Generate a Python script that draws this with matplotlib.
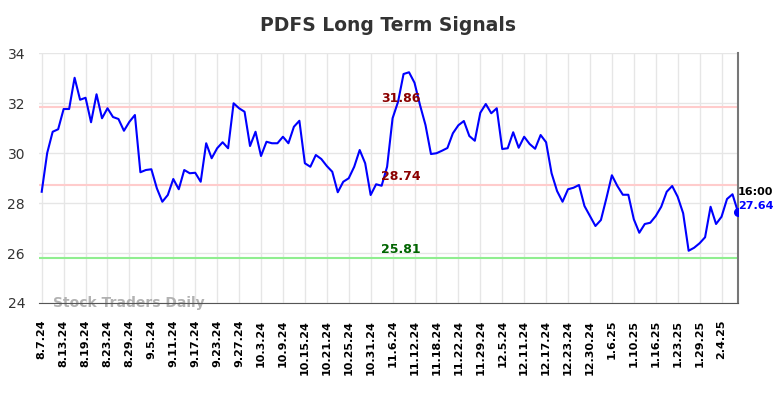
import matplotlib
matplotlib.use("Agg")
import matplotlib.pyplot as plt
import numpy as np

# closing prices, one per trading day (8.7.24 .. 2.7.25)
prices = [
    28.45, 30.00, 30.85, 30.95, 31.76, 31.76, 33.01, 32.13, 32.21, 31.23,
    32.35, 31.39, 31.79, 31.44, 31.36, 30.89, 31.25, 31.52, 29.23, 29.32,
    29.35, 28.59, 28.05, 28.32, 28.96, 28.55, 29.32, 29.19, 29.21, 28.85,
    30.39, 29.79, 30.19, 30.43, 30.19, 31.99, 31.79, 31.65, 30.28, 30.85,
    29.88, 30.45, 30.39, 30.39, 30.65, 30.39, 31.05, 31.29, 29.59, 29.45,
    29.92, 29.76, 29.48, 29.25, 28.43, 28.85, 28.99, 29.45, 30.12, 29.59,
    28.32, 28.75, 28.69, 29.45, 31.39, 32.05, 33.16, 33.23, 32.81, 31.92,
    31.12, 29.96, 29.99, 30.09, 30.20, 30.79, 31.11, 31.28, 30.68, 30.49,
    31.61, 31.96, 31.59, 31.79, 30.16, 30.19, 30.83, 30.21, 30.65, 30.36,
    30.17, 30.72, 30.43, 29.19, 28.48, 28.05, 28.55, 28.61, 28.72, 27.88,
    27.48, 27.08, 27.32, 28.19, 29.11, 28.68, 28.33, 28.33, 27.35, 26.81,
    27.16, 27.21, 27.48, 27.85, 28.45, 28.68, 28.25, 27.59, 26.09, 26.21,
    26.39, 26.63, 27.85, 27.16, 27.45, 28.16, 28.35, 27.64,
]

tick_labels = [
    "8.7.24", "8.13.24", "8.19.24", "8.23.24", "8.29.24", "9.5.24", "9.11.24",
    "9.17.24", "9.23.24", "9.27.24", "10.3.24", "10.9.24", "10.15.24",
    "10.21.24", "10.25.24", "10.31.24", "11.6.24", "11.12.24", "11.18.24",
    "11.22.24", "11.29.24", "12.5.24", "12.11.24", "12.17.24", "12.23.24",
    "12.30.24", "1.6.25", "1.10.25", "1.16.25", "1.23.25", "1.29.25", "2.4.25",
]
tick_step = 4

upper_level = 31.86
mid_level = 28.74
lower_level = 25.81
last_time = "16:00"

x = np.arange(len(prices))

fig = plt.figure(figsize=(7.84, 3.98), dpi=100)
ax = fig.add_axes([0.0497, 0.2387, 0.8916, 0.6281])

ax.plot(x, prices, color="#0000ff", lw=1.5, zorder=3)

ax.axhline(upper_level, color="#ffcccc", lw=1.5, zorder=2)
ax.axhline(mid_level, color="#ffcccc", lw=1.5, zorder=2)
ax.axhline(lower_level, color="#90ee90", lw=1.5, zorder=2)

lx = 65.5
ax.annotate("%.2f" % upper_level, (lx, upper_level), xytext=(0, 1), textcoords="offset points",
            ha="center", va="bottom", color="#8b0000", fontsize=9, fontweight="bold", zorder=4)
ax.annotate("%.2f" % mid_level, (lx, mid_level), xytext=(0, 1), textcoords="offset points",
            ha="center", va="bottom", color="#8b0000", fontsize=9, fontweight="bold", zorder=4)
ax.annotate("%.2f" % lower_level, (lx, lower_level), xytext=(0, 1), textcoords="offset points",
            ha="center", va="bottom", color="#006400", fontsize=9, fontweight="bold", zorder=4)

# last point marker and labels
ax.plot(x[-1], prices[-1], "o", color="#0000ff", ms=5.5, zorder=5)
ax.annotate(last_time, (x[-1], prices[-1]), xytext=(0, 11), textcoords="offset points",
            ha="left", va="bottom", fontsize=8, fontweight="bold", color="black",
            annotation_clip=False)
ax.annotate("%.2f" % prices[-1], (x[-1], prices[-1]), xytext=(0, 1), textcoords="offset points",
            ha="left", va="bottom", fontsize=8, fontweight="bold", color="#0000ff",
            annotation_clip=False)

ax.text(0.02, 0.0, "Stock Traders Daily", transform=ax.transAxes, ha="left", va="center",
        fontsize=10, fontweight="bold", color="#aaaaaa", alpha=0.9, zorder=1)

ax.set_xlim(-0.5, len(prices) - 1)
ax.set_ylim(24, 34)
ax.set_yticks(np.arange(24, 35, 2))
ax.set_xticks(np.arange(0, len(tick_labels) * tick_step, tick_step))
ax.set_xticklabels(tick_labels, rotation=90, fontsize=8, fontweight="bold")
ax.tick_params(axis="both", length=0)
ax.tick_params(axis="x", pad=12)
ax.tick_params(axis="y", labelsize=10, labelcolor="#333333", pad=10)

ax.grid(True, color="#e6e6e6", lw=1)
ax.set_axisbelow(True)
for s in ["top", "left"]:
    ax.spines[s].set_visible(False)
ax.spines["bottom"].set_color("#555555")
ax.spines["right"].set_color("#777777")
ax.spines["right"].set_linewidth(1.5)

ax.set_title("PDFS Long Term Signals", fontsize=13.5, fontweight="bold", color="#333333", pad=16)

fig.savefig("out.png", dpi=100)
